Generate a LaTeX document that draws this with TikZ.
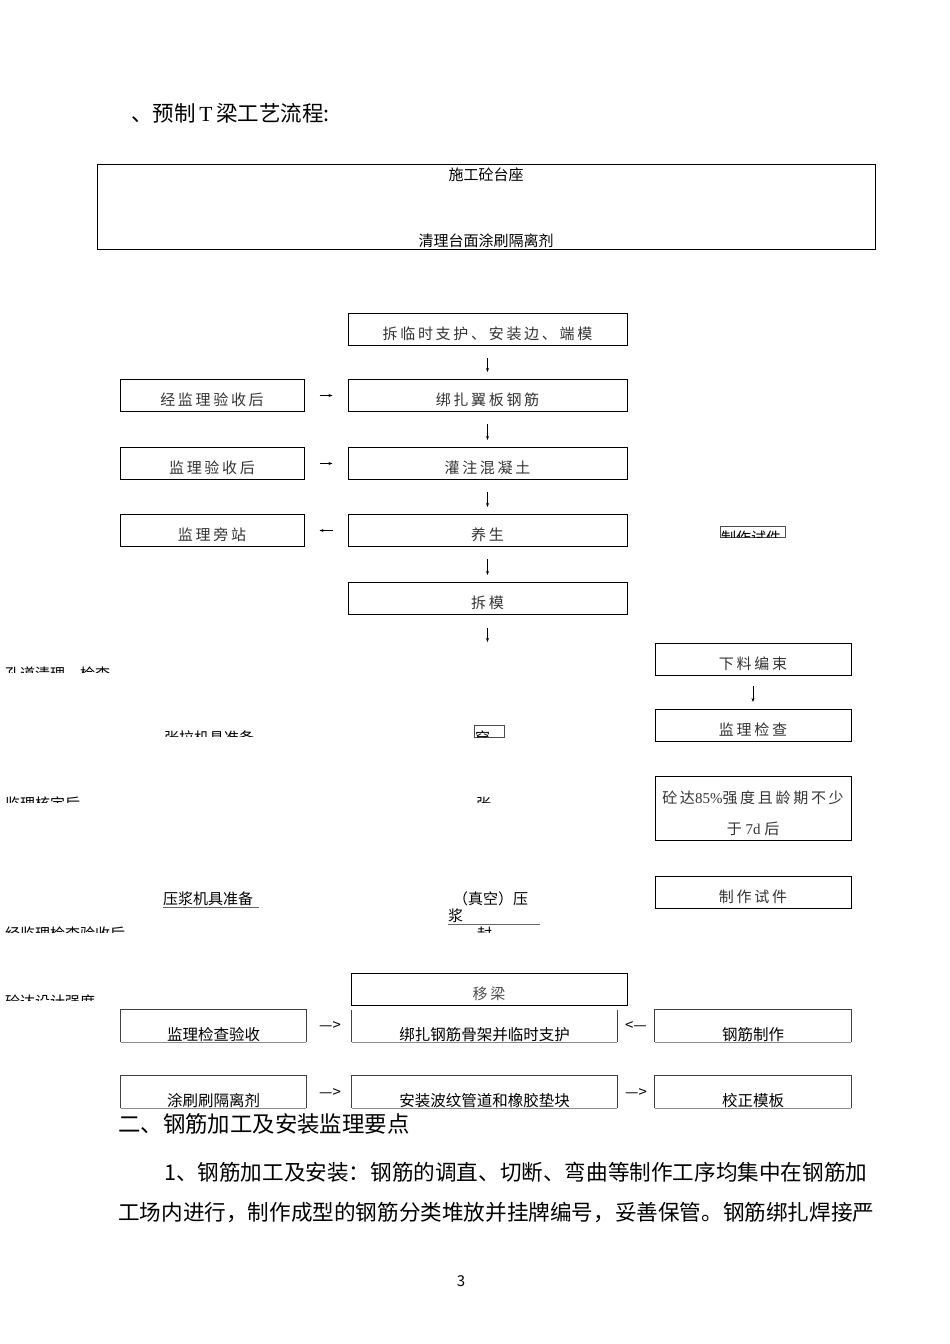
\documentclass[tikz,border=0pt]{standalone}
\usepackage{fontspec}
\setmainfont{Noto Sans CJK SC}
\newfontfamily\latinfont{Liberation Serif}
\newfontfamily\widefont[LetterSpace=18]{Noto Sans CJK SC}
\usetikzlibrary{arrows.meta,positioning,calc}
\tikzset{x=1pt, y=-1pt,
        node distance=33pt, % gap between stacked boxes
        every node/.style={inner sep=0pt},
        flowbox/.style={ % boxes of the upper flow
            draw, line width=1pt,
            minimum width=279pt, minimum height=32pt,
            text height=20pt, text depth=0pt, % text sits a little low
            text=black!80,
            font=\widefont\fontsize{15}{18}\selectfont},
        sidebox/.style={flowbox, minimum width=184pt},
        rightbox/.style={flowbox, minimum width=196pt},
        openbox/.style={ % boxes of the lower rows, text on the bottom line
            minimum height=32pt},
        lowtext/.style={anchor=south, font=\fontsize{15.5}{18}\selectfont},
        plain/.style={font=\fontsize{15}{18}\selectfont},
        arr/.style={ % small arrows between boxes
            -{Stealth[length=4pt,width=3pt]},
            line width=0.7pt}
        }
\begin{document}
\begin{tikzpicture}
    \useasboundingbox (0,0) rectangle (950,1344);

    % heading
    \node[anchor=base west, font=\fontsize{21.5}{24}\selectfont] (title) at (131,121)
        {、预制\,{\latinfont T}\,梁工艺流程:};

    % table of the casting bed
    \node[draw, line width=0.9pt, minimum width=778pt, minimum height=85pt] (bed) at (486,206.5) {};
    \node[plain] (bed1) at (486,175) {施工砼台座};
    \node[plain, anchor=base] (bed2) at (486,246) {清理台面涂刷隔离剂};

    % main column
    \node[flowbox] (remove) at (487.5,329.5) {拆临时支护、安装边、端模};
    \node[flowbox] (tie) [below=of remove] {绑扎翼板钢筋};
    \node[flowbox] (pour) [below=35pt of tie] {灌注混凝土};
    \node[flowbox] (cure) [below=34pt of pour] {养生};
    \node[flowbox] (strip) [below=35pt of cure] {拆模};
    \coordinate (gap) at ($(strip.south)+(0,27)$);

    % left column
    \node[sidebox] (check1) [left=43pt of tie] {经监理验收后};
    \node[sidebox] (check2) [left=43pt of pour] {监理验收后};
    \node[sidebox] (watch) [left=43pt of cure] {监理旁站};

    \draw[arr, shorten <=12pt, shorten >=7pt] (remove) -- (tie);
    \draw[arr, shorten <=12pt, shorten >=7pt] (tie) -- (pour);
    \draw[arr, shorten <=12pt, shorten >=7pt] (pour) -- (cure);
    \draw[arr, shorten <=12pt, shorten >=7pt] (cure) -- (strip);
    \draw[arr, shorten <=13pt] (strip) -- (gap);
    \draw[arr, shorten <=15pt, shorten >=15pt] (check1) -- (tie);
    \draw[arr, shorten <=15pt, shorten >=15pt] (check2) -- (pour);
    \draw[arr, shorten <=15pt, shorten >=15pt] (cure) -- (watch);

    % right column
    \node[rightbox] (bundle) at (753,659.5) {下料编束};
    \node[rightbox] (inspect) [below=of bundle] {监理检查};
    \node[rightbox, minimum height=64pt, text height=51pt, align=center,
        font=\widefont\fontsize{15}{31}\selectfont]
        (strength) [below=34pt of inspect] {砼达{\latinfont 85\%}强度且龄期不少\\于{\latinfont\ 7d }后};
    \node[rightbox] (sample) [below=35pt of strength] {制作试件};
    \draw[arr, shorten <=10pt, shorten >=7pt] (bundle) -- (inspect);

    % cut-off texts of the middle part
    \begin{scope}
        \clip (0,600) rectangle (300,672);
        \node[plain, anchor=base west] (duct) at (5,679) {孔道清理、检查};
    \end{scope}
    \begin{scope}
        \clip (150,700) rectangle (300,736);
        \node[plain, anchor=base west] (jack) at (164,743) {张拉机具准备};
    \end{scope}
    \begin{scope}
        \clip (0,770) rectangle (300,802);
        \node[plain, anchor=base west] (approve) at (5,809) {监理核定后};
    \end{scope}
    \begin{scope}
        \clip (0,900) rectangle (300,932);
        \node[plain, anchor=base west] (accept) at (5,939) {经监理检查验收后};
    \end{scope}
    \begin{scope}
        \clip (0,970) rectangle (300,1000);
        \node[plain, anchor=base west] (design) at (5,1007) {砼达设计强度};
    \end{scope}
    \draw[line width=0.6pt, draw=black!70] (720,526) rectangle (785,537);
    \begin{scope}
        \clip (720,526) rectangle (785,537);
        \node[plain, anchor=base west] (sample2) at (721,543) {制作试件};
    \end{scope}
    \draw[line width=0.6pt, draw=black!70] (474,725) rectangle (504,737);
    \begin{scope}
        \clip (474,725) rectangle (504,737);
        \node[plain, anchor=base west] (thread) at (475,743) {穿};
    \end{scope}
    \begin{scope}
        \clip (460,780) rectangle (520,802);
        \node[plain, anchor=base west] (stress) at (476,809) {张};
    \end{scope}
    \node[plain, anchor=base west] (grout) at (163,904) {压浆机具准备};
    \draw[draw=black!60] (grout.base west) ++(0,3) -- ++(96,0);
    \node[plain, anchor=base west] (vacuum) at (453,904) {（真空）压};
    \node[plain, anchor=base west] (vacuum2) at (448,921) {浆};
    \draw[draw=black!60] (448,924) -- (540,924);
    \begin{scope}
        \clip (460,925) rectangle (520,932);
        \node[plain, anchor=base west] (seal) at (477,939) {封};
    \end{scope}

    % lower rows
    \node[flowbox, minimum width=276pt, text=black!70] (move) at (489,989) {移梁};

    \node[openbox, minimum width=185pt, label={[lowtext]south:监理检查验收}] (p1) at (213.5,1026) {};
    \node[openbox, minimum width=265pt, label={[lowtext]south:绑扎钢筋骨架并临时支护}] (p2) at (484.5,1026) {};
    \node[openbox, minimum width=196pt, label={[lowtext]south:钢筋制作}] (p3) at (753,1026) {};
    \node[openbox, minimum width=185pt, label={[lowtext]south:涂刷刷隔离剂}] (q1) at (213.5,1092) {};
    \node[openbox, minimum width=265pt, label={[lowtext]south:安装波纹管道和橡胶垫块}] (q2) at (484.5,1092) {};
    \node[openbox, minimum width=196pt, label={[lowtext]south:校正模板}] (q3) at (753,1092) {};

    \foreach \b in {p1,p3,q1,q2,q3}
        \draw[line width=0.8pt, draw=black!75] (\b.south west) -- (\b.north west) -- (\b.north east) -- (\b.south east);
    \draw[line width=0.8pt, draw=black!75] (p2.south west) -- (p2.north west) (p2.north east) -- (p2.south east);
    \foreach \b in {p1,p2,p3,q1,q2,q3}
        \draw[line width=0.6pt, draw=black!45] (\b.south west) -- (\b.south east);

    \node[plain] (a1) at (330,1026) {—>};
    \node[plain] (a2) at (636,1026) {<—};
    \node[plain] (a3) at (330,1093) {—>};
    \node[plain] (a4) at (636,1093) {—>};

    % text below the chart
    \node[anchor=base west, font=\fontsize{22.4}{26}\selectfont] (sec) at (118,1132) {二、钢筋加工及安装监理要点};
    \node[anchor=base west, font=\fontsize{21.6}{26}\selectfont] (para1) at (164,1180)
        {1、钢筋加工及安装：钢筋的调直、切断、弯曲等制作工序均集中在钢筋加};
    \node[anchor=base west, font=\fontsize{21.6}{26}\selectfont] (para2) at (118,1220)
        {工场内进行，制作成型的钢筋分类堆放并挂牌编号，妥善保管。钢筋绑扎焊接严};
    \node[plain] (page) at (461,1281) {3};
\end{tikzpicture}
\end{document}
